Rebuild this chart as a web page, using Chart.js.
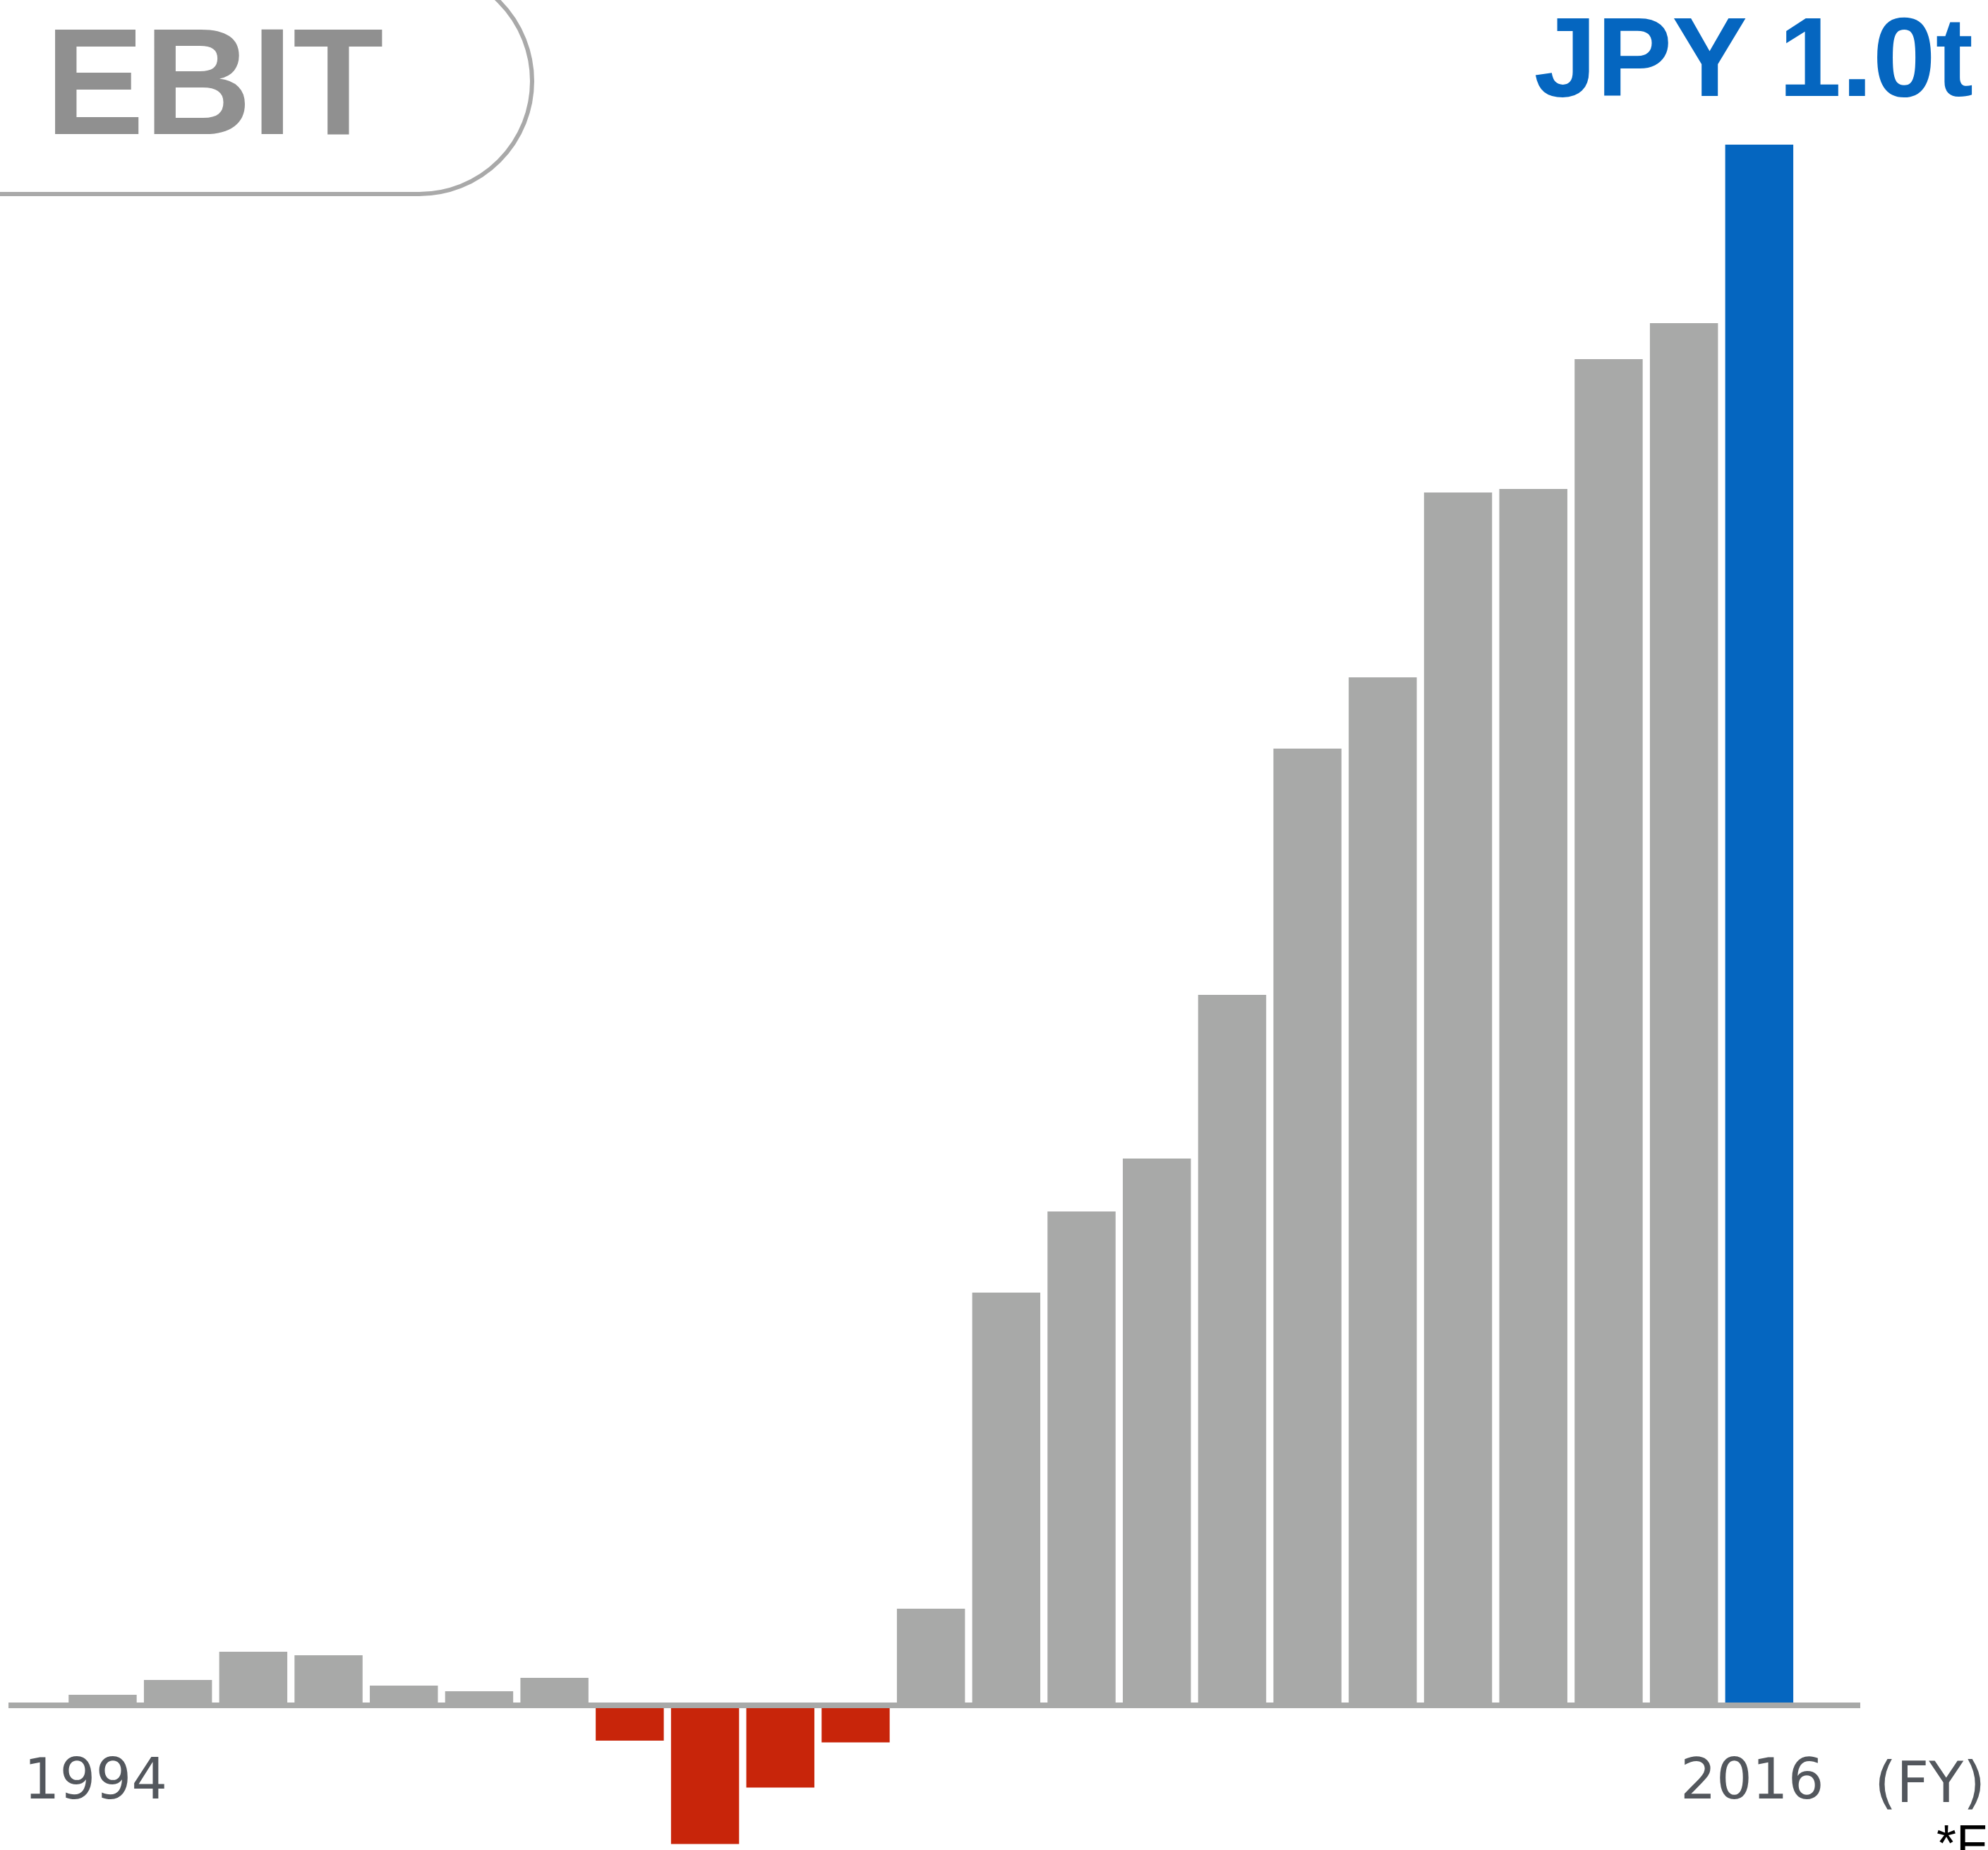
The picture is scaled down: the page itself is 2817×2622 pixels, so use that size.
<!DOCTYPE html>
<html>
<head>
<meta charset="utf-8">
<script src="https://cdn.jsdelivr.net/npm/chart.js@4.4.1/dist/chart.umd.min.js"></script>
<style>
  html, body { margin: 0; padding: 0; background: #ffffff; }
  #wrap { width: 2817px; height: 2622px; position: relative; overflow: hidden; }
  canvas { display: block; }
</style>
</head>
<body>
<div id="wrap"><canvas id="c" width="2817" height="2622"></canvas></div>
<script>
// ---- data (JPY billion) ----
const years = ['1994','1995','1996','1997','1998','1999','2000','2001','2002','2003','2004','2005',
               '2006','2007','2008','2009','2010','2011','2012','2013','2014','2015','2016'];
const ebit = [6.8, 16.3, 34.4, 32.1, 12.7, 9.0, 17.6, -22.6, -88.9, -52.7, -23.8, 61.9,
              264.5, 316.5, 350.4, 455.2, 613.0, 658.7, 777.1, 779.4, 862.6, 885.6, 1000];
const shownYears = ['1994', '2016'];
const forecastYear = '2016';
const titleText = 'EBIT';
const headlineText = 'JPY 1.0t';
const unitText = '(FY)';
const noteText = '*Forecast';

// ---- styles ----
const GRAY = '#a8a9a8';
const RED = '#c8250a';
const BLUE = '#0566c0';
const LABEL = '#53575d';

const decorPlugin = {
  id: 'decor',
  beforeDraw(chart) {
    const ctx = chart.ctx;
    ctx.save();
    ctx.fillStyle = '#ffffff';
    ctx.fillRect(0, 0, chart.width, chart.height);
    // rounded title box
    const x0 = -200, y0 = -45, x1 = 754, y1 = 275, r = 160;
    ctx.beginPath();
    ctx.moveTo(x0, y0);
    ctx.lineTo(x1 - r, y0);
    ctx.arcTo(x1, y0, x1, y0 + r, r);
    ctx.lineTo(x1, y1 - r);
    ctx.arcTo(x1, y1, x1 - r, y1, r);
    ctx.lineTo(x0, y1);
    ctx.strokeStyle = '#a9a9a9';
    ctx.lineWidth = 6;
    ctx.stroke();
    ctx.restore();
    // title
    ctx.save();
    ctx.fillStyle = '#909090';
    ctx.font = 'bold 216px "Liberation Sans", Arial, sans-serif';
    ctx.textAlign = 'left';
    ctx.textBaseline = 'alphabetic';
    ctx.translate(64, 190);
    ctx.scale(0.975, 1);
    ctx.fillText(titleText, 0, 0);
    ctx.restore();
    // headline value
    ctx.save();
    ctx.fillStyle = BLUE;
    ctx.font = 'bold 160px "Liberation Sans", Arial, sans-serif';
    ctx.textAlign = 'right';
    ctx.textBaseline = 'alphabetic';
    ctx.fillText(headlineText, 2796, 136);
    ctx.restore();
  },
  afterDatasetsDraw(chart) {
    const ctx = chart.ctx;
    const y0 = chart.scales.y.getPixelForValue(0);
    ctx.save();
    ctx.fillStyle = GRAY;
    ctx.fillRect(12, y0 - 4, 2624, 8);
    ctx.restore();
  },
  afterDraw(chart) {
    const ctx = chart.ctx;
    ctx.save();
    ctx.fillStyle = LABEL;
    ctx.font = '80px "DejaVu Sans", sans-serif';
    ctx.textAlign = 'left';
    ctx.textBaseline = 'alphabetic';
    ctx.fillText(unitText, 2656, 2554);
    ctx.fillStyle = '#000000';
    ctx.font = '72px "Liberation Sans", Arial, sans-serif';
    ctx.fillText(noteText, 2744, 2637);
    ctx.restore();
  }
};

new Chart(document.getElementById('c'), {
  type: 'bar',
  data: {
    labels: years,
    datasets: [{
      data: ebit,
      backgroundColor: (c) => {
        const v = c.raw;
        if (years[c.dataIndex] === forecastYear) return BLUE;
        return v < 0 ? RED : GRAY;
      },
      borderWidth: 0,
      barPercentage: 0.904,
      categoryPercentage: 1.0,
      clip: false
    }]
  },
  options: {
    responsive: false,
    devicePixelRatio: 1,
    animation: false,
    layout: { padding: { top: 205, left: 92.1, right: 270.8, bottom: -13.4 } },
    plugins: { legend: { display: false }, tooltip: { enabled: false }, title: { display: false } },
    scales: {
      x: {
        grid: { display: false, drawTicks: false },
        border: { display: false },
        afterFit: (scale) => { scale.paddingLeft = 0; scale.paddingRight = 0; },
        ticks: {
          autoSkip: false,
          maxRotation: 0,
          minRotation: 0,
          padding: 67,
          labelOffset: -10,
          color: LABEL,
          font: { family: '"DejaVu Sans", sans-serif', size: 80, lineHeight: 1 },
          callback: function (value) {
            const lab = this.getLabelForValue(value);
            return shownYears.includes(lab) ? lab : '';
          }
        }
      },
      y: {
        display: false,
        min: -2,
        max: 1000
      }
    }
  },
  plugins: [decorPlugin]
});
</script>
</body>
</html>
